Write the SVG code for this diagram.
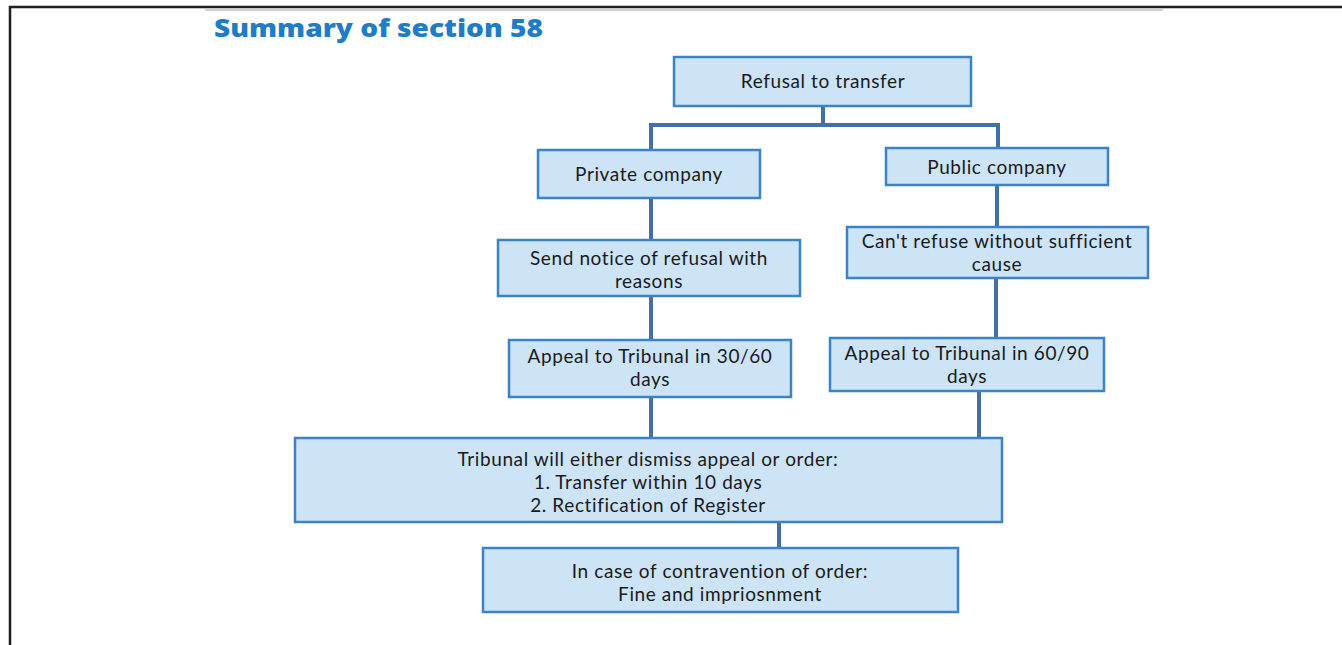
<svg xmlns="http://www.w3.org/2000/svg" width="1342" height="645" viewBox="0 0 1342 645">
<style>
.box{fill:#cce4f6;stroke:#3b82c6;stroke-width:2.5}
.t{font-family:Lato,"Liberation Sans",sans-serif;font-size:19px;letter-spacing:0.6px;font-variant-ligatures:none;fill:#1a1a1a;text-anchor:middle}
.c{fill:none;stroke:#4470a6;stroke-width:4}
.title{font-family:"Open Sans","Liberation Sans",sans-serif;font-size:25px;font-weight:800;fill:#1f7cc6}
</style>
<rect x="0" y="0" width="1342" height="645" fill="#fff"/>
<line x1="205" y1="10" x2="1163" y2="10" stroke="#cfcfcf" stroke-width="2"/>
<line x1="9" y1="7" x2="1342" y2="7" stroke="#231f20" stroke-width="2.5"/>
<line x1="10" y1="6" x2="10" y2="645" stroke="#231f20" stroke-width="2.5"/>
<text class="title" x="214" y="37" textLength="329" lengthAdjust="spacingAndGlyphs">Summary of section 58</text>
<g id="connectors">
<path class="c" d="M823 106V125M651 125H998M651 123V150M998 123V148"/>
<path class="c" d="M651 198V240"/>
<path class="c" d="M997 185V227"/>
<path class="c" d="M651 296V340"/>
<path class="c" d="M996 278V338"/>
<path class="c" d="M651 397V438"/>
<path class="c" d="M979 391V438"/>
<path class="c" d="M779 522V548"/>
</g>
<g id="n1"><rect class="box" x="674" y="57" width="297" height="49"/><text class="t" x="823" y="88">Refusal to transfer</text></g>
<g id="n2"><rect class="box" x="538" y="150" width="222" height="48"/><text class="t" x="649" y="181">Private company</text></g>
<g id="n3"><rect class="box" x="886" y="148" width="222" height="37"/><text class="t" x="997" y="174">Public company</text></g>
<g id="n4"><rect class="box" x="498" y="240" width="302" height="56"/><text class="t" x="649" y="265">Send notice of refusal with</text><text class="t" x="649" y="288">reasons</text></g>
<g id="n5"><rect class="box" x="847" y="227" width="301" height="51"/><text class="t" x="997" y="248">Can't refuse without sufficient</text><text class="t" x="997" y="271">cause</text></g>
<g id="n6"><rect class="box" x="509" y="340" width="282" height="57"/><text class="t" x="650" y="363">Appeal to Tribunal in 30/60</text><text class="t" x="650" y="386">days</text></g>
<g id="n7"><rect class="box" x="830" y="338" width="274" height="53"/><text class="t" x="967" y="360">Appeal to Tribunal in 60/90</text><text class="t" x="967" y="383">days</text></g>
<g id="n8"><rect class="box" x="295" y="438" width="707" height="84"/><text class="t" x="648" y="466">Tribunal will either dismiss appeal or order:</text><text class="t" x="648" y="489">1. Transfer within 10 days</text><text class="t" x="648" y="512">2. Rectification of Register</text></g>
<g id="n9"><rect class="box" x="483" y="548" width="475" height="64"/><text class="t" x="720" y="578">In case of contravention of order:</text><text class="t" x="720" y="601">Fine and impriosnment</text></g>
</svg>
